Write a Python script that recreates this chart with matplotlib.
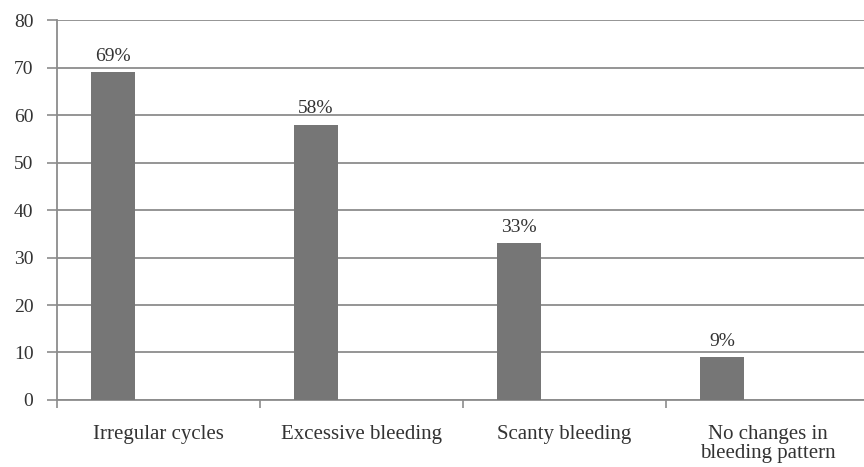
import matplotlib
matplotlib.use("Agg")
import matplotlib.pyplot as plt
import numpy as np

categories = ["Irregular cycles", "Excessive bleeding", "Scanty bleeding",
              "No changes in\nbleeding pattern"]
values = [69, 58, 33, 9]
value_labels = ["69%", "58%", "33%", "9%"]
yticks = [0, 10, 20, 30, 40, 50, 60, 70, 80]

plt.rcParams["font.family"] = ["Liberation Serif", "DejaVu Serif"]

fig = plt.figure(figsize=(8.64, 4.67), dpi=100)
ax = fig.add_axes([0.066, 0.1435, 0.94, 0.8135])

x = np.arange(len(categories))
offset = -0.224
width = 0.217
ax.bar(x + offset, values, width=width, color="#767676", zorder=3)

for xi, v, lab in zip(x, values, value_labels):
    ax.annotate(lab, (xi + offset, v), xytext=(0, 8), textcoords="offset points",
                ha="center", va="baseline", fontsize=14, color="#333333")

ax.set_xlim(-0.5, len(categories) - 0.5)
ax.set_ylim(0, 80)
ax.set_yticks(yticks)
ax.set_yticklabels([str(t) for t in yticks], fontsize=14, color="#333333")
ax.yaxis.grid(True, color="#8c8c8c", linewidth=1.3, zorder=0)
ax.set_axisbelow(True)

# category boundaries get the tick marks; names sit centred in each slot
ax.set_xticks(np.arange(-0.5, len(categories), 1.0))
ax.set_xticklabels([])
ax.set_xticks(x, minor=True)
ax.set_xticklabels(categories, minor=True, fontsize=15, color="#333333",
                   va="top", linespacing=1.0)
ax.tick_params(axis="x", which="minor", length=0, pad=18)
ax.tick_params(axis="x", which="major", length=6, color="#8c8c8c", width=1.2)
ax.tick_params(axis="y", length=7, color="#8c8c8c", width=1.2, pad=10)

for side in ("top", "right"):
    ax.spines[side].set_visible(False)
for side in ("left", "bottom"):
    ax.spines[side].set_color("#8c8c8c")
    ax.spines[side].set_linewidth(1.3)

fig.savefig("out.png", dpi=100, facecolor="white")
